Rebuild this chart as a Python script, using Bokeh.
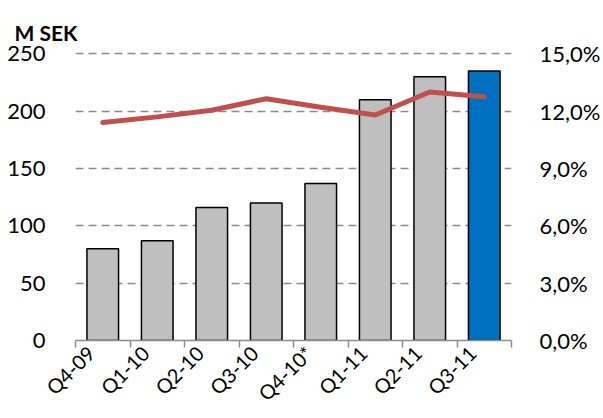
from math import pi
from bokeh.plotting import figure
from bokeh.models import (Range1d, LinearAxis, FixedTicker, ColumnDataSource,
                          CustomJSTickFormatter)
from bokeh.embed import file_html
from bokeh.resources import INLINE

categories = ["Q4-09", "Q1-10", "Q2-10", "Q3-10", "Q4-10*", "Q1-11", "Q2-11", "Q3-11"]
sales = [80, 87, 116, 120, 137, 210, 230, 235]
margin_pct = [11.4, 11.7, 12.05, 12.65, 12.2, 11.8, 13.0, 12.75]
bar_colors = ["#BFBFBF"] * 7 + ["#0070C0"]
left_ticks = [0, 50, 100, 150, 200, 250]
right_ticks = [0, 3, 6, 9, 12, 15]

FONT = "Lato"
FS = "22px"
LABEL_NUDGE = -0.22   # horizontal nudge of rotated category labels (in category widths)

n = len(categories)
xs = [i + 0.5 for i in range(n)]
src = ColumnDataSource(dict(x=xs, sales=sales, color=bar_colors, cat=categories))

p = figure(width=603, height=418, x_range=Range1d(0, n), y_range=Range1d(0, 252),
           output_backend="svg", toolbar_location=None, x_axis_type=None,
           min_border_left=75, min_border_right=90, min_border_top=51,
           min_border_bottom=78)
p.outline_line_color = None
p.background_fill_color = "white"
p.border_fill_color = "white"
p.extra_y_ranges = {"pct": Range1d(0, 15 * 252 / 250)}

# grid
p.ygrid.grid_line_color = "#8C8C8C"
p.ygrid.grid_line_dash = "8 5"
p.ygrid.grid_line_width = 1.5
p.ygrid.ticker = FixedTicker(ticks=left_ticks)

# left axis
ya = p.yaxis[0]
ya.ticker = FixedTicker(ticks=left_ticks)
ya.axis_line_color = None
ya.major_tick_line_color = None
ya.minor_tick_line_color = None
ya.major_label_text_font = FONT
ya.major_label_text_font_size = FS
ya.major_label_text_color = "black"
ya.major_label_standoff = 24

# right axis
ra = LinearAxis(y_range_name="pct", ticker=FixedTicker(ticks=right_ticks),
                formatter=CustomJSTickFormatter(
                    code="return tick.toFixed(1).replace('.', ',') + '%';"))
ra.axis_line_color = None
ra.major_tick_line_color = None
ra.minor_tick_line_color = None
ra.major_label_text_font = FONT
ra.major_label_text_font_size = FS
ra.major_label_text_color = "black"
ra.major_label_standoff = 22
p.add_layout(ra, "right")

# bottom axis: category labels (major, invisible ticks) + boundary tick marks (minor)
ba = LinearAxis(ticker=FixedTicker(ticks=[x + LABEL_NUDGE for x in xs],
                                   minor_ticks=list(range(n + 1))),
                formatter=CustomJSTickFormatter(
                    args=dict(cats=categories),
                    code="return cats[Math.floor(tick + 0.5)];"))
ba.axis_line_color = "#8C8C8C"
ba.axis_line_width = 1.5
ba.major_tick_line_color = None
ba.major_tick_out = 7
ba.major_tick_in = 0
ba.minor_tick_line_color = "#8C8C8C"
ba.minor_tick_line_width = 1.5
ba.minor_tick_out = 7
ba.minor_tick_in = 0
ba.major_label_orientation = pi / 4
ba.major_label_text_font = FONT
ba.major_label_text_font_size = "20px"
ba.major_label_text_color = "black"
ba.major_label_standoff = 2
p.add_layout(ba, "below")

p.vbar(x="x", top="sales", width=0.58, fill_color="color", line_color="black",
       line_width=1.5, source=src)
p.line(xs, margin_pct, y_range_name="pct", line_color="#C0504D", line_width=5,
       line_cap="round", line_join="round")

p.title.text = "M SEK"
p.title.text_font = FONT
p.title.text_font_style = "bold"
p.title.text_font_size = "21px"
p.title.text_color = "black"
p.title.align = "left"
p.title.offset = -61
p.title.standoff = 14

open("out.html", "w").write(file_html(p, INLINE))
